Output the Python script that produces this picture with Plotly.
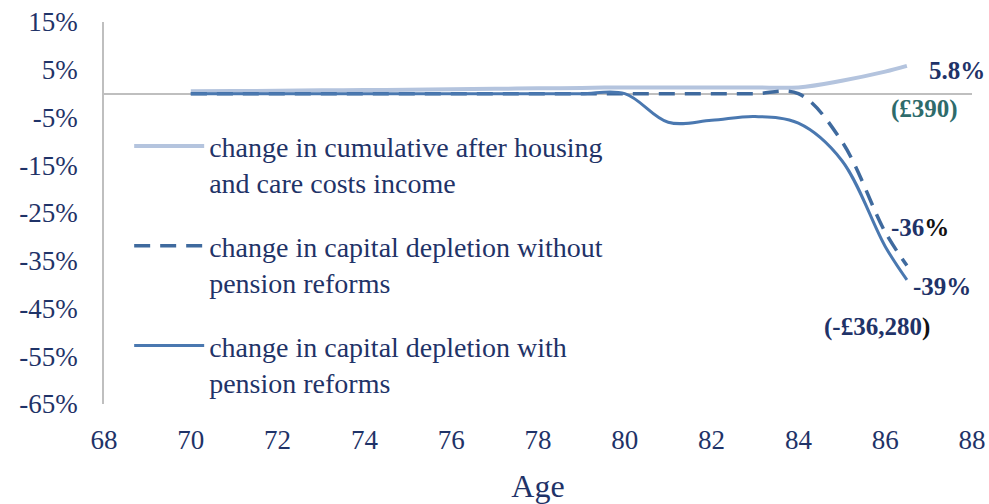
import plotly.graph_objects as go

# ages (x) and % changes
ages = [70, 71, 72, 73, 74, 75, 76, 77, 78, 79, 80, 81, 82, 83, 84, 85, 86, 86.5]
income_change = [0.5, 0.55, 0.6, 0.7, 0.75, 0.8, 0.9, 1.0, 1.1, 1.2, 1.3, 1.3, 1.3, 1.3, 1.3, 2.7, 4.6, 5.8]
depletion_no_reform = [0, 0, 0, 0, 0, 0, 0, 0, 0, 0, 0, 0, 0, 0, 0, -10, -29, -36]
depletion_reform = [0, 0, 0, 0, 0, 0, 0, 0, 0, 0, 0, -6.0, -5.6, -4.8, -6.2, -14, -32, -39]

ytick_vals = [15, 5, -5, -15, -25, -35, -45, -55, -65]
ytick_text = ["15%", "5%", "-5%", "-15%", "-25%", "-35%", "-45%", "-55%", "-65%"]

names = [
    "change in cumulative after housing<br>and care costs income",
    "change in capital depletion without<br>pension reforms",
    "change in capital depletion with<br>pension reforms",
]

navy = "#1F3368"
font_family = "Liberation Serif, Times New Roman, serif"

fig = go.Figure()
fig.add_trace(go.Scatter(x=ages, y=income_change, name=names[0], mode="lines",
                         legendgroup="a",
                         line=dict(color="#B4C4DE", width=4, shape="spline", smoothing=1)))
fig.add_trace(go.Scatter(x=ages, y=depletion_no_reform, name=names[1], mode="lines",
                         legendgroup="b",
                         line=dict(color="#3F6A9E", width=3.5, dash="16px,10px",
                                   shape="spline", smoothing=1)))
fig.add_trace(go.Scatter(x=ages, y=depletion_reform, name=names[2], mode="lines",
                         legendgroup="c",
                         line=dict(color="#4A78B0", width=3, shape="spline", smoothing=1)))

# end-of-line labels
labels = [
    dict(x=87.65, y=4.9, text="<b>5.8%</b>", color=navy),
    dict(x=86.9, y=-3.2, text="<b>(£390)</b>", color="#2E6B6B"),
    dict(x=86.8, y=-28.1, text="<b>-36<span style='color:#111'>%</span></b>", color=navy),
    dict(x=87.3, y=-40.3, text="<b>-39%</b>", color=navy),
    dict(x=85.8, y=-48.8, text="<b>(-£36,280<span style='color:#111'>)</span></b>", color=navy),
]
for lb in labels:
    fig.add_annotation(x=lb["x"], y=lb["y"], text=lb["text"], showarrow=False,
                       font=dict(size=25, color=lb["color"], family=font_family))

fig.update_layout(
    width=989, height=504,
    margin=dict(l=104, r=17, t=22, b=100),
    plot_bgcolor="white", paper_bgcolor="white",
    font=dict(family=font_family, size=27, color=navy),
    showlegend=True,
    legend=dict(x=0.029, y=0.74, xanchor="left", yanchor="top",
                bgcolor="rgba(0,0,0,0)", itemwidth=70, valign="top",
                tracegroupgap=24, font=dict(size=28, color=navy)),
    xaxis=dict(range=[68, 88], dtick=2, tick0=68, showgrid=False, zeroline=False,
               showline=False, ticks="", ticklabelstandoff=17, automargin=False,
               title=dict(text="Age", standoff=20)),
    yaxis=dict(range=[-65, 15], tickvals=ytick_vals, ticktext=ytick_text,
               showgrid=False, automargin=False,
               zeroline=True, zerolinecolor="#BFBFBF", zerolinewidth=1.5,
               showline=True, linecolor="#BFBFBF", linewidth=1.5,
               ticks="", ticklabelstandoff=19),
)

# drop the default body margin so the figure sits at the page corner
fig.write_html("out.html", config={"displayModeBar": False},
               post_script="document.body.style.margin='0';")
